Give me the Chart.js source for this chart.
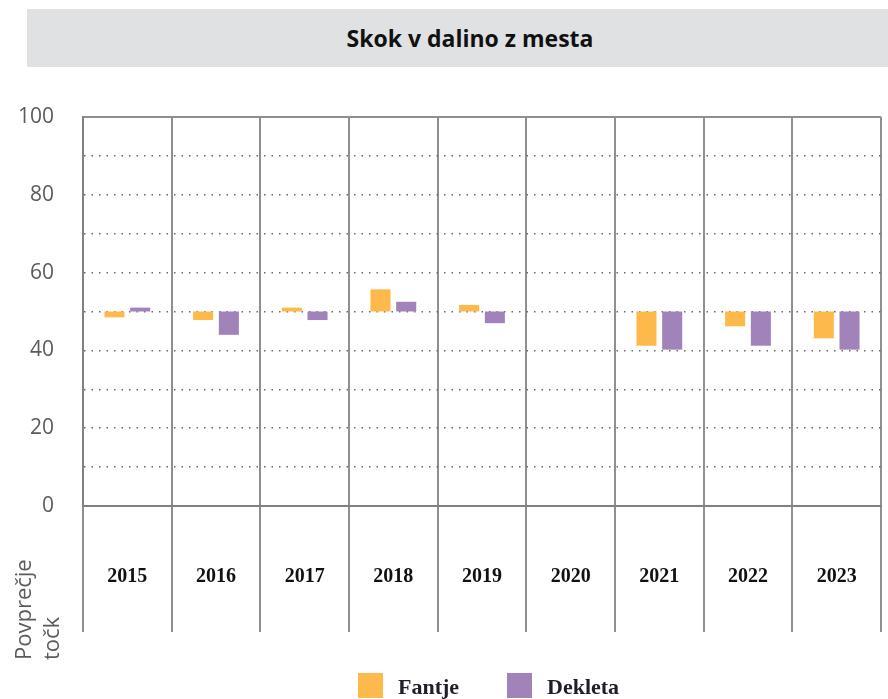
<!DOCTYPE html>
<html>
<head>
<meta charset="utf-8">
<script src="https://cdn.jsdelivr.net/npm/chart.js@4"></script>
<style>
  html, body { margin: 0; padding: 0; background: #fff; }
  #wrap { position: relative; width: 888px; height: 699px; overflow: hidden; }
  #chart { position: absolute; left: 0; top: 0; }
  #title {
    position: absolute; left: 27px; top: 9px; width: 861px; height: 58px;
    background: #e0e1e3; box-sizing: border-box; padding-left: 25px;
    font: bold 23px "Open Sans", sans-serif; color: #111;
    text-align: center; line-height: 58px;
  }
  #ytitle {
    position: absolute; left: 8px; top: 530px; height: 130px;
    writing-mode: vertical-rl; transform: rotate(180deg);
    font: 22px "Open Sans", sans-serif; color: #5b5b5b; line-height: 28px;
  }
  .leg { position: absolute; top: 673px; height: 25px; font: bold 22px "Liberation Serif", serif; color: #1f1f2a; line-height: 25px; }
  .leg i { position: absolute; left: 0; top: 0; width: 25px; height: 25px; }
  .leg span { position: absolute; left: 40px; top: 1px; white-space: nowrap; }
</style>
</head>
<body>
<div id="wrap">
  <canvas id="chart" width="888" height="699"></canvas>
  <div id="title">Skok v dalino z mesta</div>
  <div id="ytitle">Povprečje<br>točk</div>
  <div class="leg" style="left:358px"><i style="background:#fdb94a"></i><span>Fantje</span></div>
  <div class="leg" style="left:507px"><i style="background:#a283b9"></i><span>Dekleta</span></div>
</div>
<script>
const years = ["2015", "2016", "2017", "2018", "2019", "2020", "2021", "2022", "2023"];
const fantje = [48.5, 47.8, 51, 55.7, 51.7, null, 41.2, 46.2, 43.1];
const dekleta = [51, 44, 47.8, 52.5, 47, null, 40.2, 41.2, 40.2];
const baseline = 50;

const FANTJE_COLOR = "#fdb94a";
const DEKLETA_COLOR = "#a283b9";

const toRange = (vals) => vals.map((v) => (v == null ? null : [baseline, v]));

new Chart(document.getElementById("chart"), {
  type: "bar",
  data: {
    labels: years,
    datasets: [
      { label: "Fantje", data: toRange(fantje), backgroundColor: FANTJE_COLOR, borderWidth: 0 },
      { label: "Dekleta", data: toRange(dekleta), backgroundColor: DEKLETA_COLOR, borderWidth: 0 },
    ],
  },
  options: {
    responsive: false,
    animation: false,
    categoryPercentage: 0.58,
    barPercentage: 0.78,
    layout: { padding: { top: 117, left: 0, right: 7, bottom: 67 } },
    plugins: {
      legend: { display: false },
      tooltip: { enabled: false },
    },
    scales: {
      x: {
        grid: {
          offset: true,
          color: "#8f8f8f",
          lineWidth: 2,
          tickLength: 126,
        },
        border: { color: "#808080", width: 2 },
        ticks: {
          color: "#111",
          padding: -67,
          font: { family: "Liberation Serif", size: 20, weight: "bold" },
        },
        afterFit: (scale) => { scale.height = 126; },
      },
      y: {
        min: 0,
        max: 100,
        grid: {
          drawTicks: false,
          color: (ctx) => (ctx.tick && ctx.tick.value % 100 === 0 ? "#8f8f8f" : "#6a6a6a"),
          lineWidth: (ctx) => (ctx.tick && ctx.tick.value % 100 === 0 ? 2 : 1.5),
        },
        border: {
          color: "#808080",
          width: 2,
          dash: (ctx) => (ctx.tick && ctx.tick.value % 100 === 0 ? [] : [1.5, 6]),
        },
        ticks: {
          stepSize: 10,
          padding: 29,
          color: "#5b5b5b",
          font: { family: "Open Sans", size: 21 },
          callback: (v) => (v % 20 === 0 ? v : ""),
        },
        afterFit: (scale) => { scale.width = 83; },
      },
    },
  },
});
</script>
</body>
</html>
